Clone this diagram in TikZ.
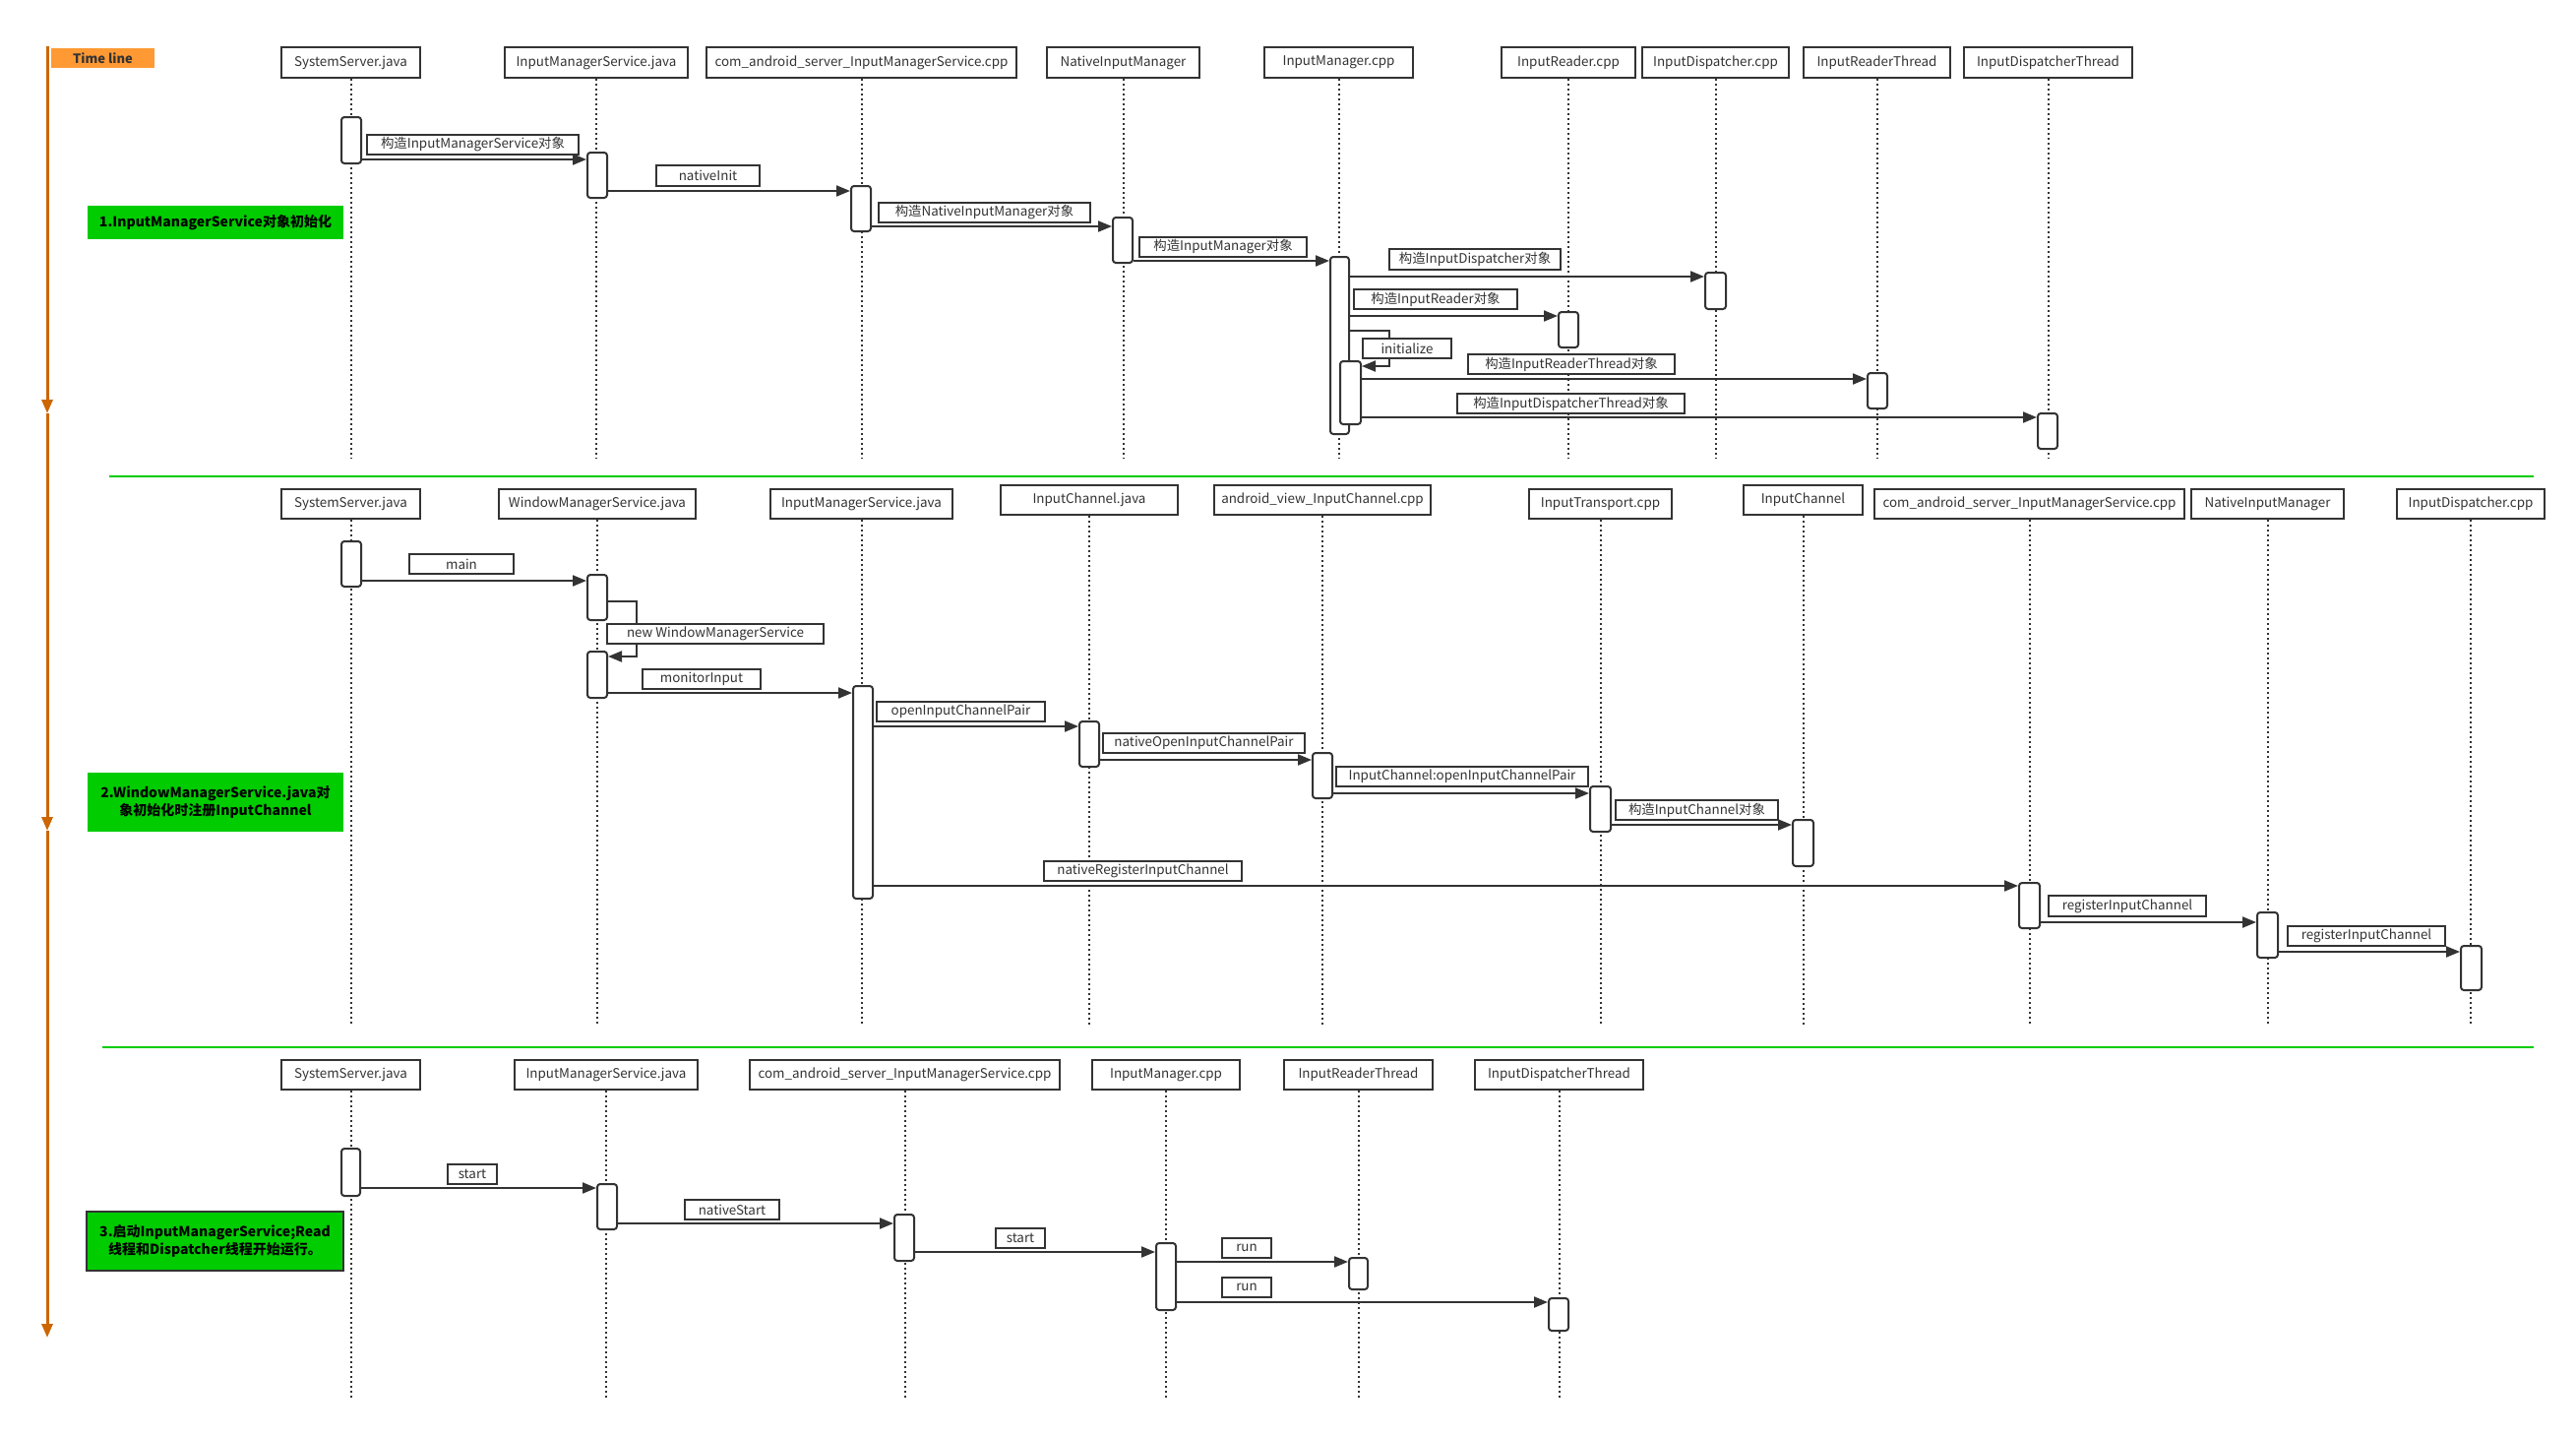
\documentclass[tikz,border=0pt]{standalone}
\usepackage{fontspec}
\newfontfamily\cjk{Noto Sans CJK SC}
\usetikzlibrary{arrows.meta}
\definecolor{dk}{HTML}{333333}
\definecolor{gr}{HTML}{00CC00}
\definecolor{tl}{HTML}{CC6600}
\definecolor{tlbox}{HTML}{FF9933}
\tikzset{
  hdr/.style={draw=dk, line width=2.5pt, fill=white, inner sep=0pt, text=dk, font=\cjk\fontsize{13.4}{16}\selectfont},
  act/.style={draw=dk, line width=2pt, fill=white, rounded corners=3pt, inner sep=0pt},
  lbl/.style={draw=dk, line width=2pt, fill=white, inner sep=0pt, text=dk, font=\cjk\fontsize{13.4}{16}\selectfont},
  life/.style={draw=dk, line width=2pt, dash pattern=on 2pt off 3pt},
  msg/.style={draw=dk, line width=2pt, -{Triangle[length=14pt,width=11pt]}},
  grn/.style={fill=gr, inner sep=0pt, align=center, text=black, font=\cjk\bfseries\fontsize{14}{18}\selectfont},
  grnb/.style={grn, draw=dk, line width=2pt},
  divider/.style={draw=gr, line width=2.5pt},
  tline/.style={draw=tl, line width=3pt, -{Triangle[length=14pt,width=11pt]}},
  tbox/.style={fill=tlbox, inner sep=0pt, text=dk, font=\cjk\bfseries\fontsize{13}{15}\selectfont},
}
\newcommand\bx[7]{\node[#1,minimum width={#5-#3},minimum height={#6-#4}] (#2) at ({(#3+#5)/2},{(#4+#6)/2}) {#7};}
\newcommand\lifeln[2]{\coordinate (#1e) at (#1.south |- 0,#2); \draw[life] (#1.south) -- (#1e);}
\newcommand\msgg[3]{\draw[msg] (#1.east |- 0,#3) -- (#2.west |- 0,#3);}
\begin{document}
\begin{tikzpicture}[x=1pt,y=-1pt]
\useasboundingbox[fill=white] (0,0) rectangle (2618,1459);

% ---------- time line ----------
\coordinate (t0) at (48,47);
\coordinate (t1) at (48,420);
\coordinate (t2) at (48,844);
\coordinate (t3) at (48,1359);
\draw[tline] (t0) -- (t1);
\draw[tline] (t1) -- (t2);
\draw[tline] (t2) -- (t3);
\bx{tbox}{tlb}{52}{49}{157}{69}{Time line}

% ---------- dividers ----------
\coordinate (d1a) at (111,484);
\coordinate (d1b) at (2575,484);
\coordinate (d2a) at (104,1064);
\coordinate (d2b) at (2575,1064);
\draw[divider] (d1a) -- (d1b);
\draw[divider] (d2a) -- (d2b);

% ================= Section 1 =================
\bx{hdr}{sa}{286}{48}{427}{79}{SystemServer.java}
\bx{hdr}{sb}{513}{48}{699}{79}{InputManagerService.java}
\bx{hdr}{sc}{718}{48}{1033}{79}{com\_android\_server\_InputManagerService.cpp}
\bx{hdr}{sd}{1064}{48}{1219}{79}{NativeInputManager}
\bx{hdr}{se}{1285}{48}{1436}{79}{InputManager.cpp}
\bx{hdr}{sf}{1526}{48}{1662}{79}{InputReader.cpp}
\bx{hdr}{sg}{1669}{48}{1818}{79}{InputDispatcher.cpp}
\bx{hdr}{sh}{1833}{48}{1982}{79}{InputReaderThread}
\bx{hdr}{si}{1996}{48}{2167}{79}{InputDispatcherThread}
\foreach \n in {sa,sb,sc,sd,se,sf,sg,sh,si} {\lifeln{\n}{466}}

\bx{act}{a1}{347}{119}{367}{166}{}
\bx{act}{a2}{597}{155}{617}{201}{}
\bx{act}{a3}{865}{189}{885}{235}{}
\bx{act}{a4}{1131}{221}{1151}{267}{}
\bx{act}{a5}{1352}{261}{1371}{441}{}
\bx{act}{a6}{1733}{277}{1754}{314}{}
\bx{act}{a7}{1584}{317}{1604}{353}{}
\bx{act}{a8}{1362}{367}{1383}{431}{}
\bx{act}{a9}{1898}{379}{1918}{415}{}
\bx{act}{a10}{2071}{420}{2091}{456}{}

\msgg{a1}{a2}{162}
\msgg{a2}{a3}{194}
\msgg{a3}{a4}{230}
\msgg{a4}{a5}{265}
\msgg{a5}{a6}{281}
\msgg{a5}{a7}{321}
\draw[msg] (a5.east |- 0,336) -- ++(40,0) |- (a8.east |- 0,372);
\msgg{a8}{a9}{385}
\msgg{a8}{a10}{424}

\bx{lbl}{l1}{373}{137}{588}{157}{构造InputManagerService对象}
\bx{lbl}{l2}{667}{168}{772}{189}{nativeInit}
\bx{lbl}{l3}{893}{206}{1108}{226}{构造NativeInputManager对象}
\bx{lbl}{l4}{1158}{241}{1328}{261}{构造InputManager对象}
\bx{lbl}{l5}{1412}{253}{1586}{274}{构造InputDispatcher对象}
\bx{lbl}{l6}{1376}{294}{1542}{314}{构造InputReader对象}
\bx{lbl}{l7}{1385}{344}{1475}{364}{initialize}
\bx{lbl}{l8}{1492}{360}{1702}{380}{构造InputReaderThread对象}
\bx{lbl}{l9}{1481}{400}{1712}{420}{构造InputDispatcherThread对象}

\bx{grn}{g1}{89}{209}{349}{243}{1.InputManagerService对象初始化}

% ================= Section 2 =================
\bx{hdr}{ta}{286}{497}{427}{527}{SystemServer.java}
\bx{hdr}{tb}{507}{497}{707}{527}{WindowManagerService.java}
\bx{hdr}{tc}{783}{497}{968}{527}{InputManagerService.java}
\bx{hdr}{td}{1017}{493}{1197}{523}{InputChannel.java}
\bx{hdr}{te}{1234}{493}{1454}{523}{android\_view\_InputChannel.cpp}
\bx{hdr}{tf}{1554}{497}{1699}{527}{InputTransport.cpp}
\bx{hdr}{tg}{1772}{493}{1893}{523}{InputChannel}
\bx{hdr}{th}{1905}{497}{2220}{527}{com\_android\_server\_InputManagerService.cpp}
\bx{hdr}{ti}{2227}{497}{2382}{527}{NativeInputManager}
\bx{hdr}{tj}{2436}{497}{2586}{527}{InputDispatcher.cpp}
\foreach \n in {ta,tb,tc,td,te,tf,tg,th,ti,tj} {\lifeln{\n}{1043}}

\bx{act}{b1}{347}{550}{367}{596}{}
\bx{act}{b2}{597}{584}{617}{630}{}
\bx{act}{b3}{597}{662}{617}{709}{}
\bx{act}{b4}{867}{697}{887}{913}{}
\bx{act}{b5}{1097}{733}{1117}{779}{}
\bx{act}{b6}{1334}{765}{1354}{811}{}
\bx{act}{b7}{1616}{799}{1637}{845}{}
\bx{act}{b8}{1822}{833}{1843}{880}{}
\bx{act}{b9}{2052}{897}{2073}{943}{}
\bx{act}{b10}{2294}{927}{2315}{973}{}
\bx{act}{b11}{2501}{961}{2522}{1006}{}

\msgg{b1}{b2}{590}
\draw[msg] (b2.east |- 0,611) -- ++(29,0) |- (b3.east |- 0,667);
\msgg{b3}{b4}{704}
\msgg{b4}{b5}{738}
\msgg{b5}{b6}{772}
\msgg{b6}{b7}{806}
\msgg{b7}{b8}{838}
\msgg{b4}{b9}{900}
\msgg{b9}{b10}{937}
\msgg{b10}{b11}{967}

\bx{lbl}{m1}{416}{563}{522}{583}{main}
\bx{lbl}{m2}{617}{634}{837}{654}{new WindowManagerService}
\bx{lbl}{m3}{653}{680}{773}{700}{monitorInput}
\bx{lbl}{m4}{891}{713}{1062}{733}{openInputChannelPair}
\bx{lbl}{m5}{1121}{745}{1326}{765}{nativeOpenInputChannelPair}
\bx{lbl}{m6}{1358}{779}{1614}{799}{InputChannel:openInputChannelPair}
\bx{lbl}{m7}{1642}{813}{1807}{833}{构造InputChannel对象}
\bx{lbl}{m8}{1061}{875}{1262}{895}{nativeRegisterInputChannel}
\bx{lbl}{m9}{2082}{910}{2242}{931}{registerInputChannel}
\bx{lbl}{m10}{2325}{941}{2485}{961}{registerInputChannel}

\bx{grn}{g2}{89}{785}{349}{845}{2.WindowManagerService.java对\\象初始化时注册InputChannel}

% ================= Section 3 =================
\bx{hdr}{ua}{286}{1077}{427}{1107}{SystemServer.java}
\bx{hdr}{ub}{523}{1077}{709}{1107}{InputManagerService.java}
\bx{hdr}{uc}{762}{1077}{1077}{1107}{com\_android\_server\_InputManagerService.cpp}
\bx{hdr}{ud}{1110}{1077}{1260}{1107}{InputManager.cpp}
\bx{hdr}{ue}{1305}{1077}{1456}{1107}{InputReaderThread}
\bx{hdr}{uf}{1499}{1077}{1670}{1107}{InputDispatcherThread}
\foreach \n in {ua,ub,uc,ud,ue,uf} {\lifeln{\n}{1423}}

\bx{act}{c1}{347}{1167}{366}{1215}{}
\bx{act}{c2}{607}{1203}{627}{1249}{}
\bx{act}{c3}{909}{1234}{929}{1281}{}
\bx{act}{c4}{1175}{1263}{1195}{1331}{}
\bx{act}{c5}{1371}{1278}{1390}{1310}{}
\bx{act}{c6}{1574}{1319}{1594}{1352}{}

\msgg{c1}{c2}{1207}
\msgg{c2}{c3}{1243}
\msgg{c3}{c4}{1272}
\msgg{c4}{c5}{1282}
\msgg{c4}{c6}{1323}

\bx{lbl}{n1}{455}{1183}{505}{1203}{start}
\bx{lbl}{n2}{696}{1219}{792}{1239}{nativeStart}
\bx{lbl}{n3}{1012}{1248}{1062}{1268}{start}
\bx{lbl}{n4}{1242}{1258}{1292}{1278}{run}
\bx{lbl}{n5}{1242}{1298}{1292}{1318}{run}

\bx{grnb}{g3}{88}{1231}{349}{1291}{3.启动InputManagerService;Read\\线程和Dispatcher线程开始运行。}
\end{tikzpicture}
\end{document}
